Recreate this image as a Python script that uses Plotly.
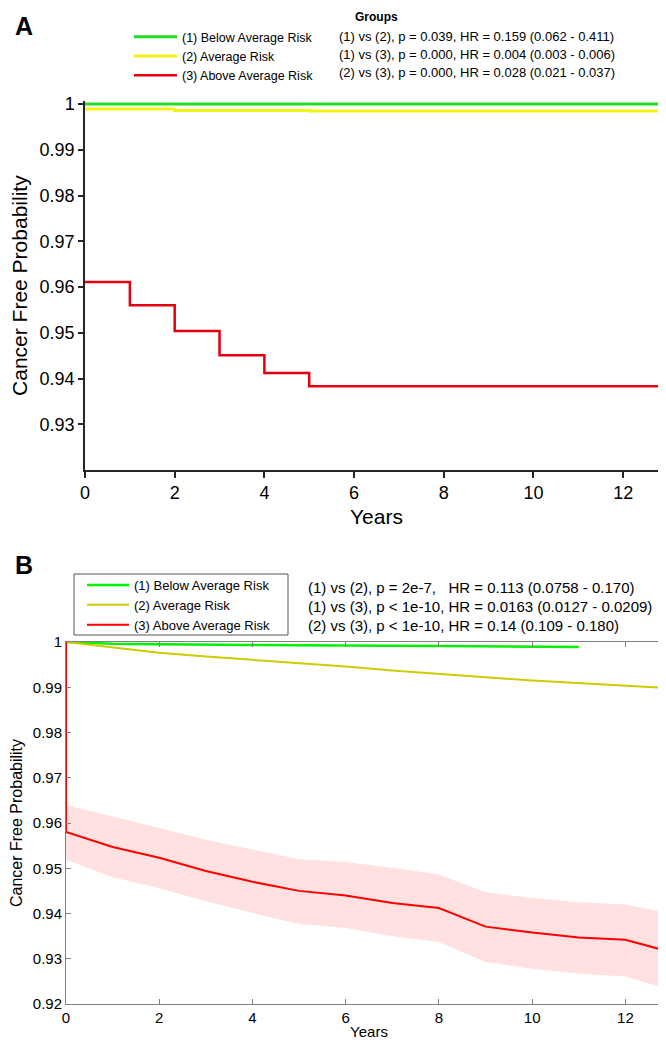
import plotly.graph_objects as go

W, H = 666, 1042

# ---------------- Panel A data ----------------
a_years_green = [0, 13]
a_green = [1.0, 1.0]
a_years_yellow = [0, 2, 5, 13]
a_yellow = [0.9989, 0.9986, 0.9985, 0.9985]
a_years_red = [0, 1, 2, 3, 4, 5, 13]
a_red = [0.9611, 0.9560, 0.9504, 0.9451, 0.9412, 0.9383, 0.9383]
a_names = ["(1) Below Average Risk", "(2) Average Risk", "(3) Above Average Risk"]
a_stats = ["(1) vs (2), p = 0.039, HR = 0.159 (0.062 - 0.411)",
           "(1) vs (3), p = 0.000, HR = 0.004 (0.003 - 0.006)",
           "(2) vs (3), p = 0.000, HR = 0.028 (0.021 - 0.037)"]

# ---------------- Panel B data ----------------
b_years_green = [0, 1, 2, 4, 6, 8, 10, 11]
b_green = [1.0, 0.9996, 0.9995, 0.9993, 0.9992, 0.9991, 0.9990, 0.9989]
b_years_yellow = list(range(0, 14))
b_yellow = [1.0, 0.9988, 0.9976, 0.9968, 0.9961, 0.9954, 0.9946, 0.9937,
            0.9929, 0.9922, 0.9915, 0.9909, 0.9903, 0.9898]
b_years_red = [0, 0, 1, 2, 3, 4, 5, 6, 7, 8, 9, 10, 11, 12, 13]
b_red = [1.0, 0.958, 0.9547, 0.9523, 0.9494, 0.9470, 0.9450, 0.9440, 0.9423,
         0.9412, 0.9371, 0.9358, 0.9347, 0.9342, 0.9314]
b_years_band = list(range(0, 14))
b_red_upper = [0.9640, 0.9615, 0.9589, 0.9563, 0.9541, 0.9520, 0.9514, 0.9501,
               0.9486, 0.9447, 0.9434, 0.9425, 0.9420, 0.9399]
b_red_lower = [0.9519, 0.9480, 0.9456, 0.9427, 0.9401, 0.9377, 0.9368, 0.9350,
               0.9337, 0.9293, 0.9278, 0.9267, 0.9261, 0.9230]
b_names = ["(1) Below Average Risk", "(2) Average Risk", "(3) Above Average Risk"]
b_stats = ["(1) vs (2), p = 2e-7,   HR = 0.113 (0.0758 - 0.170)",
           "(1) vs (3), p < 1e-10, HR = 0.0163 (0.0127 - 0.0209)",
           "(2) vs (3), p < 1e-10, HR = 0.14 (0.109 - 0.180)"]

y_ticks_a = [0.93, 0.94, 0.95, 0.96, 0.97, 0.98, 0.99, 1.0]
y_ticks_b = [0.92, 0.93, 0.94, 0.95, 0.96, 0.97, 0.98, 0.99, 1.0]
x_ticks = [0, 2, 4, 6, 8, 10, 12]

FONT = "Liberation Sans, Arial, Helvetica, sans-serif"

def px_x(p):
    return p / W

def px_y(p):
    return 1 - p / H

fig = go.Figure()

# Panel A traces
fig.add_trace(go.Scatter(x=a_years_green, y=a_green, mode="lines", line=dict(color="#22dd22", width=3, shape="hv"),
                         name=a_names[0], xaxis="x", yaxis="y", legend="legend"))
fig.add_trace(go.Scatter(x=a_years_yellow, y=a_yellow, mode="lines", line=dict(color="#f4f414", width=3, shape="hv"),
                         name=a_names[1], xaxis="x", yaxis="y", legend="legend"))
fig.add_trace(go.Scatter(x=a_years_red, y=a_red, mode="lines", line=dict(color="#e3000f", width=2.5, shape="hv"),
                         name=a_names[2], xaxis="x", yaxis="y", legend="legend"))

# Panel B traces
fig.add_trace(go.Scatter(x=b_years_band, y=b_red_upper, mode="lines", line=dict(width=0, color="rgba(0,0,0,0)"),
                         showlegend=False, xaxis="x2", yaxis="y2", hoverinfo="skip"))
fig.add_trace(go.Scatter(x=b_years_band, y=b_red_lower, mode="lines", line=dict(width=0, color="rgba(0,0,0,0)"),
                         fill="tonexty", fillcolor="rgba(255,200,200,0.55)",
                         showlegend=False, xaxis="x2", yaxis="y2", hoverinfo="skip"))
fig.add_trace(go.Scatter(x=b_years_green, y=b_green, mode="lines", line=dict(color="#00f000", width=2.5),
                         name=b_names[0], xaxis="x2", yaxis="y2", legend="legend2"))
fig.add_trace(go.Scatter(x=b_years_yellow, y=b_yellow, mode="lines", line=dict(color="#cccc00", width=2),
                         name=b_names[1], xaxis="x2", yaxis="y2", legend="legend2"))
fig.add_trace(go.Scatter(x=b_years_red, y=b_red, mode="lines", line=dict(color="#ff0000", width=2),
                         name=b_names[2], xaxis="x2", yaxis="y2", legend="legend2"))

annotations = []
annotations.append(dict(text="<b>A</b>", x=px_x(5), y=px_y(18), xref="paper", yref="paper",
                        xanchor="left", yanchor="middle", showarrow=False, font=dict(size=25, color="black", family=FONT)))
annotations.append(dict(text="<b>B</b>", x=px_x(5), y=px_y(557), xref="paper", yref="paper",
                        xanchor="left", yanchor="middle", showarrow=False, font=dict(size=25, color="black", family=FONT)))
annotations.append(dict(text="<b>Groups</b>", x=px_x(368), y=px_y(9), xref="paper", yref="paper",
                        xanchor="center", yanchor="middle", showarrow=False, font=dict(size=12, color="black", family=FONT)))
for i, s in enumerate(a_stats):
    annotations.append(dict(text=s, x=px_x(329), y=px_y(28.5 + 18 * i), xref="paper", yref="paper",
                            xanchor="left", yanchor="middle", showarrow=False,
                            font=dict(size=13, color="black", family=FONT)))
for i, s in enumerate(b_stats):
    annotations.append(dict(text=s, x=px_x(298), y=px_y(579 + 19.2 * i), xref="paper", yref="paper",
                            xanchor="left", yanchor="middle", showarrow=False,
                            font=dict(size=15, color="black", family=FONT)))

# frame drawn around panel B's legend
shapes = [dict(type="rect", xref="paper", yref="paper", x0=px_x(66), x1=px_x(280), y0=px_y(627), y1=px_y(566),
               line=dict(color="#555555", width=1), fillcolor="white", layer="below")]

fig.update_layout(
    width=W, height=H,
    margin=dict(l=0, r=0, t=0, b=0, autoexpand=False),
    paper_bgcolor="white", plot_bgcolor="white",
    font=dict(family=FONT, color="black"),
    annotations=annotations,
    shapes=shapes,
    xaxis=dict(domain=[px_x(77), px_x(660)], range=[0, 13], tickvals=x_ticks,
               showgrid=False, zeroline=False, showline=True, linecolor="#262626", linewidth=1.5,
               ticks="outside", ticklen=6, tickcolor="#262626", tickwidth=1.5, automargin=False,
               tickfont=dict(size=18, family=FONT), anchor="y",
               title=dict(text="Years", font=dict(size=21, family=FONT), standoff=7)),
    yaxis=dict(domain=[px_y(462), px_y(93.3)], range=[0.92, 1.0006], tickvals=y_ticks_a,
               ticktext=["0.93", "0.94", "0.95", "0.96", "0.97", "0.98", "0.99", "1"],
               showgrid=False, zeroline=False, showline=True, linecolor="#262626", linewidth=1.5,
               ticks="outside", ticklen=5, tickcolor="#262626", tickwidth=1.5, automargin=False,
               tickfont=dict(size=18, family=FONT), anchor="x",
               title=dict(text="Cancer Free Probability", font=dict(size=21, family=FONT), standoff=10)),
    xaxis2=dict(domain=[px_x(58), px_x(664)], range=[0, 13], tickvals=x_ticks,
                showgrid=False, zeroline=False, showline=True, mirror="ticks", linecolor="#808080", linewidth=1,
                ticks="inside", ticklen=5, tickcolor="#808080", automargin=False,
                tickfont=dict(size=15, family=FONT), anchor="y2",
                title=dict(text="Years", font=dict(size=15, family=FONT), standoff=1)),
    yaxis2=dict(domain=[px_y(996), px_y(634)], range=[0.92, 1.0], tickvals=y_ticks_b,
                ticktext=["0.92", "0.93", "0.94", "0.95", "0.96", "0.97", "0.98", "0.99", "1"],
                showgrid=False, zeroline=False, showline=True, mirror="ticks", linecolor="#808080", linewidth=1,
                ticks="inside", ticklen=5, tickcolor="#808080", automargin=False,
                tickfont=dict(size=15, family=FONT), anchor="x2",
                title=dict(text="Cancer Free Probability", font=dict(size=16, family=FONT), standoff=8)),
    legend=dict(x=px_x(121), y=px_y(14), xanchor="left", yanchor="top", bgcolor="rgba(0,0,0,0)",
                borderwidth=0, font=dict(size=12.5, family=FONT), tracegroupgap=0, itemwidth=43,
                traceorder="normal"),
    legend2=dict(x=px_x(74), y=px_y(562), xanchor="left", yanchor="top", bgcolor="rgba(0,0,0,0)",
                 borderwidth=0, font=dict(size=13, family=FONT), tracegroupgap=0,
                 traceorder="normal", itemwidth=42),
)

fig.write_html("out.html")
